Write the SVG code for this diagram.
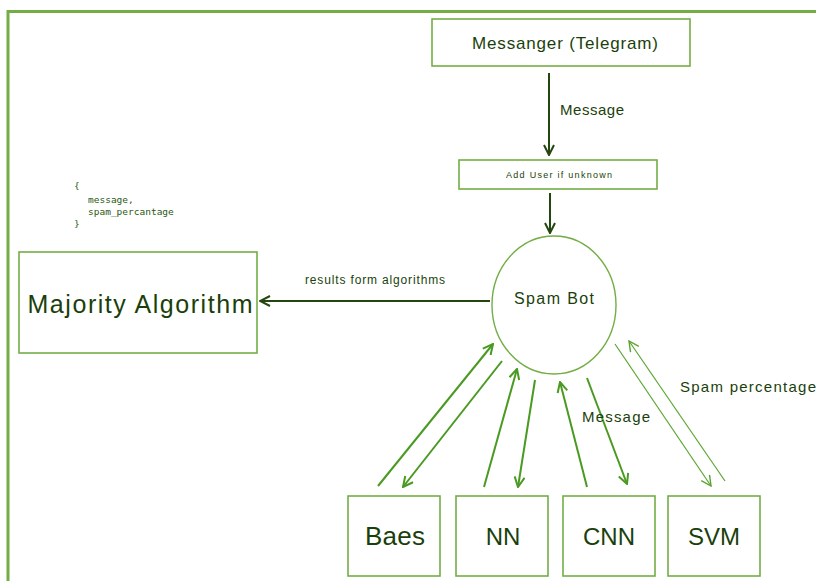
<svg xmlns="http://www.w3.org/2000/svg" width="816" height="581" viewBox="0 0 816 581">
<style>
.box{fill:#ffffff;stroke:#74ad45;stroke-width:1.6}
.t{font-family:"Liberation Sans",Arial,sans-serif;fill:#1b3f0b;text-anchor:middle}
.lbl{font-family:"Liberation Sans",Arial,sans-serif;fill:#1b3f0b}
.mono{font-family:"DejaVu Sans Mono","Liberation Mono",monospace;font-size:9.5px;fill:#2a5a12}
.dark{stroke:#24470f;stroke-width:2;fill:none}
.fan{stroke:#4a9a22;stroke-width:2;fill:none}
.thin{stroke:#5aa530;stroke-width:1.2;fill:none}
</style>
<defs>
<marker id="ad" viewBox="0 0 12 12" refX="11" refY="6" markerWidth="12" markerHeight="12" markerUnits="userSpaceOnUse" orient="auto">
<path d="M1,1 L11,6 L1,11" fill="none" stroke="#24470f" stroke-width="2"/>
</marker>
<marker id="af" viewBox="0 0 12 12" refX="11" refY="6" markerWidth="12" markerHeight="12" markerUnits="userSpaceOnUse" orient="auto">
<path d="M1,1 L11,6 L1,11" fill="none" stroke="#4a9a22" stroke-width="2"/>
</marker>
<marker id="at" viewBox="0 0 12 12" refX="11" refY="6" markerWidth="12" markerHeight="12" markerUnits="userSpaceOnUse" orient="auto">
<path d="M1,1 L11,6 L1,11" fill="none" stroke="#5aa530" stroke-width="1.4"/>
</marker>
</defs>
<rect width="816" height="581" fill="#ffffff"/>
<g id="frame">
<path d="M8,581 L8,11.5 L816,11.5" fill="none" stroke="#72ae45" stroke-width="3"/>
</g>
<g id="json">
<text class="mono" x="74" y="189">{</text>
<text class="mono" x="88" y="203">message,</text>
<text class="mono" x="88" y="215">spam_percantage</text>
<text class="mono" x="74" y="227">}</text>
</g>
<g id="connectors">
<line class="dark" x1="549" y1="73" x2="549" y2="155" marker-end="url(#ad)"/>
<line class="dark" x1="550" y1="193" x2="550" y2="233" marker-end="url(#ad)"/>
<line class="dark" x1="490" y1="301" x2="260" y2="301" marker-end="url(#ad)"/>
<line class="fan" x1="378" y1="486" x2="493" y2="344" marker-end="url(#af)"/>
<line class="fan" x1="502" y1="361" x2="403" y2="487" marker-end="url(#af)"/>
<line class="fan" x1="484" y1="487" x2="517" y2="369" marker-end="url(#af)"/>
<line class="fan" x1="535" y1="380" x2="518" y2="487" marker-end="url(#af)"/>
<line class="fan" x1="587" y1="487" x2="560" y2="382" marker-end="url(#af)"/>
<line class="fan" x1="587" y1="378" x2="627" y2="484" marker-end="url(#af)"/>
<line class="thin" x1="615" y1="344" x2="711" y2="486" marker-end="url(#at)"/>
<line class="thin" x1="725" y1="481" x2="629" y2="341" marker-end="url(#at)"/>
<text class="lbl" x="560" y="115" font-size="15" textLength="64">Message</text>
<text class="lbl" x="305" y="284" font-size="12" textLength="140">results form algorithms</text>
<text class="lbl" x="582" y="422" font-size="15" textLength="68">Message</text>
<text class="lbl" x="680" y="392" font-size="15" textLength="136">Spam percentage</text>
</g>
<g id="messenger">
<rect class="box" x="432" y="19" width="258" height="47"/>
<text class="t" x="565" y="49" font-size="17" textLength="186">Messanger (Telegram)</text>
</g>
<g id="adduser">
<rect class="box" x="459" y="160" width="198" height="29"/>
<text class="t" x="559" y="178" font-size="9" textLength="106">Add User if unknown</text>
</g>
<g id="spambot">
<ellipse cx="554" cy="305" rx="62" ry="69" fill="#ffffff" stroke="#74ad45" stroke-width="1.4"/>
<text class="t" x="554" y="304" font-size="16" textLength="80">Spam Bot</text>
</g>
<g id="majority">
<rect class="box" x="19" y="252" width="238" height="101"/>
<text class="t" x="140" y="313" font-size="25" textLength="225">Majority Algorithm</text>
</g>
<g id="baes">
<rect class="box" x="348" y="496" width="92" height="80"/>
<text class="t" x="395" y="545" font-size="26" textLength="60">Baes</text>
</g>
<g id="nn">
<rect class="box" x="456" y="496" width="92" height="80"/>
<text class="t" x="503" y="545" font-size="24">NN</text>
</g>
<g id="cnn">
<rect class="box" x="563" y="496" width="92" height="80"/>
<text class="t" x="609" y="545" font-size="24">CNN</text>
</g>
<g id="svm">
<rect class="box" x="668" y="496" width="92" height="80"/>
<text class="t" x="714" y="545" font-size="24">SVM</text>
</g>
</svg>
